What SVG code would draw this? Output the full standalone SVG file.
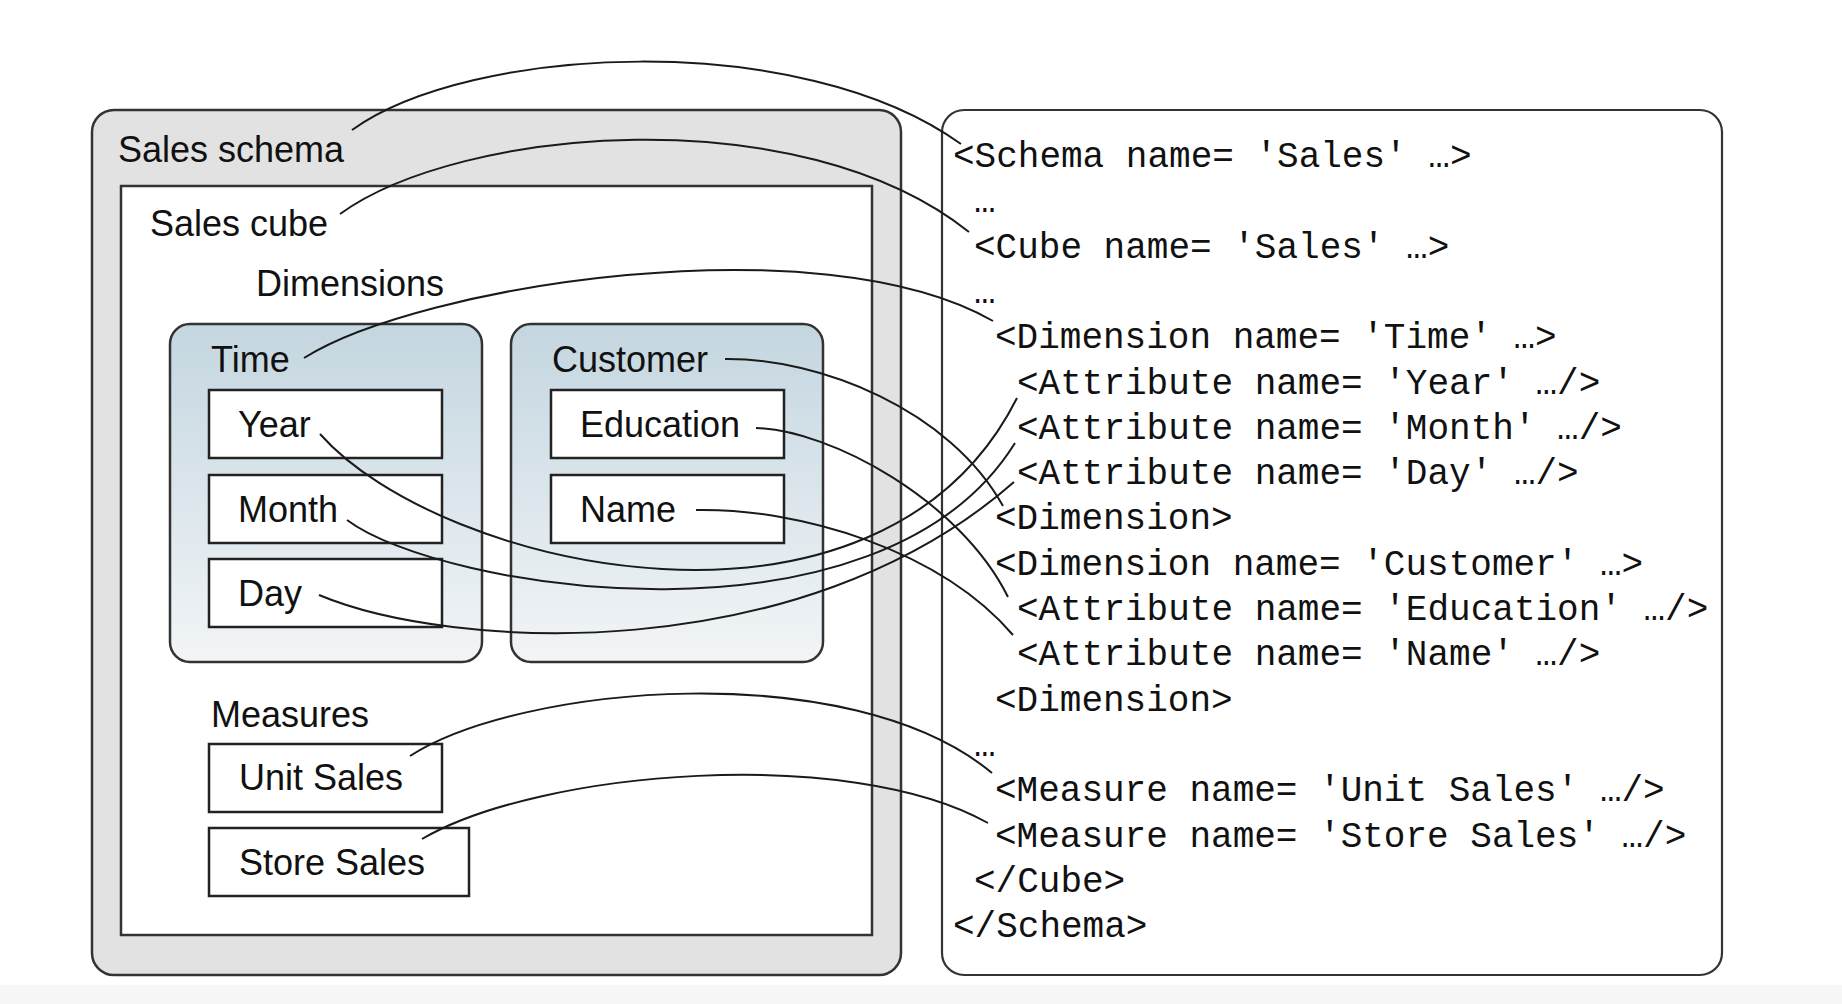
<svg xmlns="http://www.w3.org/2000/svg" width="1842" height="1004" viewBox="0 0 1842 1004">
<defs>
<linearGradient id="dimGrad" x1="0" y1="0" x2="0" y2="1">
<stop offset="0" stop-color="#c4d6e0"/>
<stop offset="1" stop-color="#f2f5f7"/>
</linearGradient>
<style>
.sans{font-family:"Liberation Sans",Arial,sans-serif;font-size:36px;fill:#111}
.mono{font-family:"Liberation Mono","Courier New",monospace;font-size:36px;fill:#111}
.frame{stroke:#333;stroke-width:2.5}
.attr{fill:#fff;stroke:#222;stroke-width:2.5}
.conn{fill:none;stroke:#1a1a1a;stroke-width:2}
</style>
</defs>
<rect x="0" y="0" width="1842" height="1004" fill="#fff"/>
<rect x="0" y="985" width="1842" height="19" fill="#f7f7f8"/>

<g id="schema">
<rect x="92" y="110" width="809" height="865" rx="22" fill="#e2e2e2" class="frame"/>
<text x="118" y="162" class="sans">Sales schema</text>
</g>
<g id="cube">
<rect x="121" y="186" width="751" height="749" fill="#fff" class="frame"/>
<text x="150" y="236" class="sans">Sales cube</text>
<text x="256" y="296" class="sans">Dimensions</text>
</g>
<g id="time">
<rect x="170" y="324" width="312" height="338" rx="20" fill="url(#dimGrad)" class="frame"/>
<text x="211" y="372" class="sans">Time</text>
</g>
<g id="year">
<rect x="209" y="390" width="233" height="68" class="attr"/>
<text x="238" y="437" class="sans">Year</text>
</g>
<g id="month">
<rect x="209" y="475" width="233" height="68" class="attr"/>
<text x="238" y="522" class="sans">Month</text>
</g>
<g id="day">
<rect x="209" y="559" width="233" height="68" class="attr"/>
<text x="238" y="606" class="sans">Day</text>
</g>
<g id="customer">
<rect x="511" y="324" width="312" height="338" rx="20" fill="url(#dimGrad)" class="frame"/>
<text x="552" y="372" class="sans">Customer</text>
</g>
<g id="education">
<rect x="551" y="390" width="233" height="68" class="attr"/>
<text x="580" y="437" class="sans">Education</text>
</g>
<g id="name">
<rect x="551" y="475" width="233" height="68" class="attr"/>
<text x="580" y="522" class="sans">Name</text>
</g>
<g id="measures">
<text x="211" y="727" class="sans">Measures</text>
</g>
<g id="unitsales">
<rect x="209" y="744" width="233" height="68" class="attr"/>
<text x="239" y="790" class="sans">Unit Sales</text>
</g>
<g id="storesales">
<rect x="209" y="828" width="260" height="68" class="attr"/>
<text x="239" y="875" class="sans">Store Sales</text>
</g>

<g id="xml">
<rect x="942" y="110" width="780" height="865" rx="22" fill="#fff" stroke="#333" stroke-width="2.2"/>
<text x="953" y="167" class="mono">&lt;Schema name= 'Sales' …&gt;</text>
<text x="974" y="212" class="mono">…</text>
<text x="974" y="258" class="mono">&lt;Cube name= 'Sales' …&gt;</text>
<text x="974" y="303" class="mono">…</text>
<text x="995" y="348" class="mono">&lt;Dimension name= 'Time' …&gt;</text>
<text x="1017" y="394" class="mono">&lt;Attribute name= 'Year' …/&gt;</text>
<text x="1017" y="439" class="mono">&lt;Attribute name= 'Month' …/&gt;</text>
<text x="1017" y="484" class="mono">&lt;Attribute name= 'Day' …/&gt;</text>
<text x="995" y="529" class="mono">&lt;Dimension&gt;</text>
<text x="995" y="575" class="mono">&lt;Dimension name= 'Customer' …&gt;</text>
<text x="1017" y="620" class="mono">&lt;Attribute name= 'Education' …/&gt;</text>
<text x="1017" y="665" class="mono">&lt;Attribute name= 'Name' …/&gt;</text>
<text x="995" y="711" class="mono">&lt;Dimension&gt;</text>
<text x="974" y="756" class="mono">…</text>
<text x="995" y="801" class="mono">&lt;Measure name= 'Unit Sales' …/&gt;</text>
<text x="995" y="847" class="mono">&lt;Measure name= 'Store Sales' …/&gt;</text>
<text x="974" y="892" class="mono">&lt;/Cube&gt;</text>
<text x="953" y="937" class="mono">&lt;/Schema&gt;</text>
</g>

<g id="connectors">
<path class="conn" d="M352,130 C470,45 800,28 961,144"/>
<path class="conn" d="M340,214 C460,127 800,97 969,232"/>
<path class="conn" d="M304,358 C420,285 820,222 993,321"/>
<path class="conn" d="M725,359 C820,358 950,410 1003,506"/>
<path class="conn" d="M756,428 C830,430 960,500 1008,597"/>
<path class="conn" d="M696,510 C800,508 940,550 1013,635"/>
<path class="conn" d="M320,434 C440,570 880,670 1017,398"/>
<path class="conn" d="M347,520 C440,590 880,660 1015,443"/>
<path class="conn" d="M319,595 C450,650 800,670 1014,482"/>
<path class="conn" d="M410,756 C520,685 850,655 992,773"/>
<path class="conn" d="M422,839 C540,770 850,745 988,823"/>
</g>
</svg>
